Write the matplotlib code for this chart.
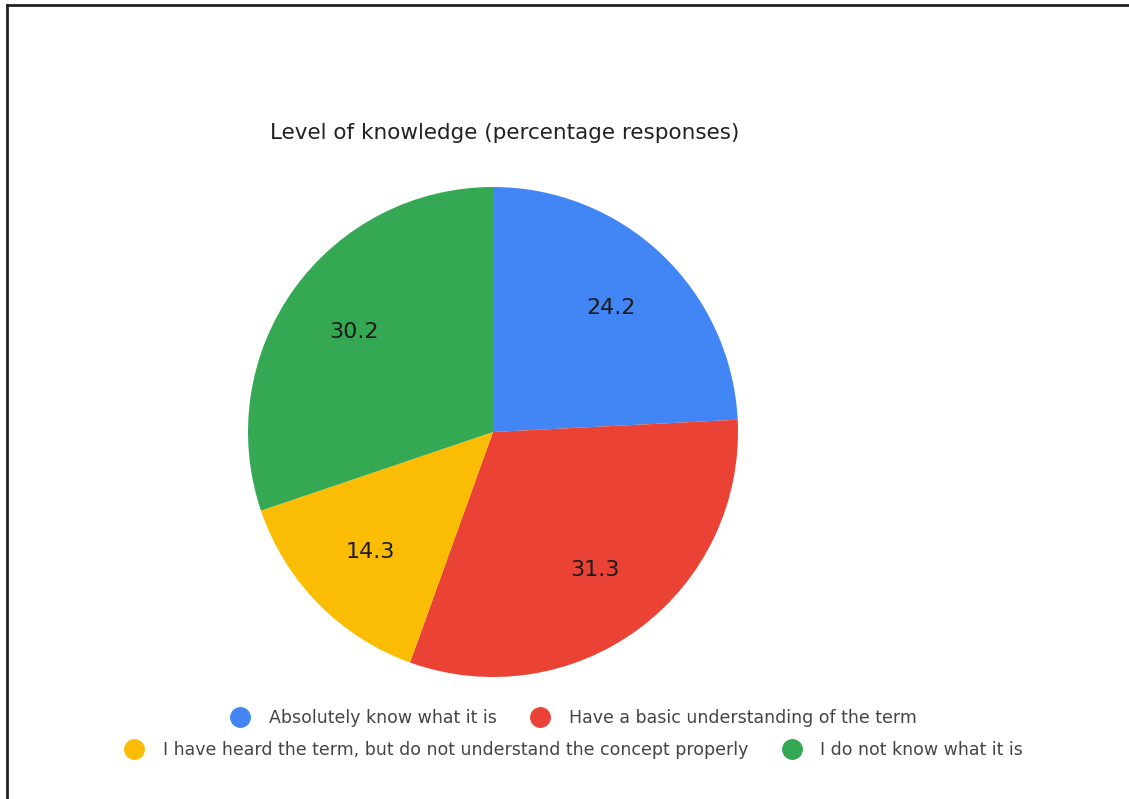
import matplotlib
matplotlib.use("Agg")
import matplotlib.pyplot as plt
from matplotlib.lines import Line2D

title = "Level of knowledge (percentage responses)"
categories = ["Absolutely know what it is",
              "Have a basic understanding of the term",
              "I have heard the term, but do not understand the concept properly",
              "I do not know what it is"]
values = [24.2, 31.3, 14.3, 30.2]
colors = ["#4285F4", "#EA4335", "#FBBC04", "#34A853"]

plt.rcParams['font.family'] = ['DejaVu Sans']

W, H = 1129, 799
fig = plt.figure(figsize=(W / 100, H / 100), dpi=100)
fig.patch.set_facecolor("white")

# pie axes: center (493,432), radius 245
cx, cy, r = 493, 432, 245
ax = fig.add_axes([(cx - r) / W, 1 - (cy + r) / H, 2 * r / W, 2 * r / H])
wedges, texts, autotexts = ax.pie(values, colors=colors, startangle=90, counterclock=False,
                                  autopct=lambda p: f"{p:.1f}", pctdistance=0.7,
                                  wedgeprops=dict(linewidth=0),
                                  textprops=dict(fontsize=16, color="#1a1a1a"))
ax.set_aspect("equal")
ax.set_xlim(-1, 1)
ax.set_ylim(-1, 1)
ax.axis("off")

fig.text(270 / W, 1 - 133 / H, title, fontsize=15.5, color="#222222", ha="left", va="center")

# legend rows
def make_handle(c):
    return Line2D([0], [0], marker="o", color="none", markerfacecolor=c, markeredgecolor=c, markersize=14)

leg_kw = dict(loc="center", ncol=2, frameon=False, fontsize=12.5, handlelength=2.0,
              handletextpad=0.65, columnspacing=1.5, labelcolor="#444444")
row1 = fig.legend([make_handle(colors[0]), make_handle(colors[1])], categories[:2],
                  bbox_to_anchor=(570 / W, 1 - 718 / H), **leg_kw)
row2 = fig.legend([make_handle(colors[2]), make_handle(colors[3])], categories[2:],
                  bbox_to_anchor=(570 / W, 1 - 750 / H), **leg_kw)

# border (left and top visible)
fig.add_artist(Line2D([7 / W, 7 / W], [0, 1 - 5 / H], color="#222222", lw=2, transform=fig.transFigure))
fig.add_artist(Line2D([7 / W, 1], [1 - 5 / H, 1 - 5 / H], color="#222222", lw=2, transform=fig.transFigure))

fig.savefig("out.png", dpi=100)
